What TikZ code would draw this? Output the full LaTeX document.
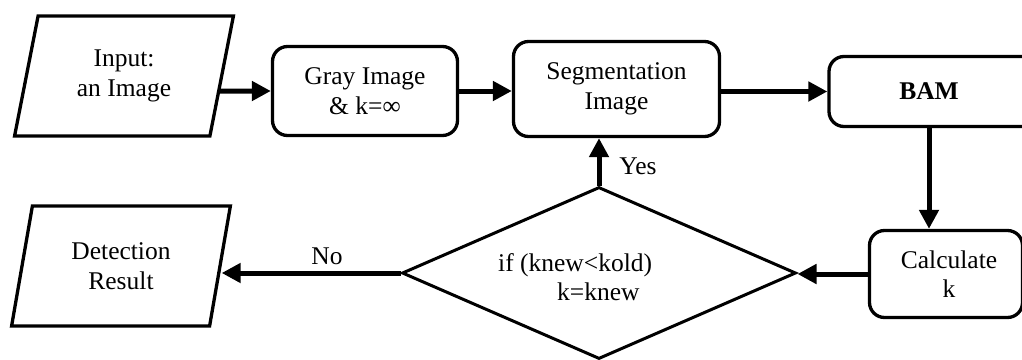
\documentclass[tikz,border=0pt]{standalone}
\usepackage{fontspec}
\setmainfont{Liberation Serif}
\usetikzlibrary{shapes.geometric,arrows.meta,calc}
\begin{document}
\begin{tikzpicture}[x=1pt,y=-1pt,
  every node/.style={font=\fontsize{25.5}{29.5}\selectfont, align=center},
  box/.style={draw, line width=3.3pt, rounded corners=15pt, inner sep=0pt},
  io/.style={draw, line width=3.3pt, trapezium, trapezium left angle=76,
    trapezium right angle=104, trapezium stretches=true,
    minimum width=219pt, minimum height=120pt, inner sep=0pt},
  arr/.style={line width=5pt, -{Triangle[length=19pt,width=19pt]}},
  lbl/.style={inner sep=0pt}
]
\useasboundingbox (0,0) rectangle (1022,359);

\node[io] (in) at (124,76) {Input:\\an Image};
\node[box, minimum width=185pt, minimum height=89pt] (gray) at (365,91) {Gray Image\\\& k=∞};
\node[box, minimum width=206pt, minimum height=95pt] (seg) at (616.5,89) {Segmentation\\Image};
\node[box, minimum width=208pt, minimum height=70pt] (bam) at (933,91.5) {\hspace*{-8pt}\textbf{BAM}};
\node[box, minimum width=153pt, minimum height=87pt] (calc) at (946,274) {\hspace*{6pt}Calculate\\\hspace*{6pt}k};
\node[draw, diamond, line width=3pt, minimum width=394pt, minimum height=172pt, inner sep=0pt] (dia) at (599,273) {};
\node[lbl, anchor=west, align=left] (dtext) at (498,277) {if (knew<kold)\\\hspace*{59pt}k=knew};
\node[io] (det) at (121,266) {Detection\\Result};

\draw[arr] ($(in.east)+(-3.9,15)$) -- (gray.west);
\draw[arr] (gray.east) -- (gray.east -| seg.west);
\draw[arr] (seg.east |- bam.west) -- (bam.west);
\draw[arr] ($(bam.south)+(-4,0)$) -- ($(bam.south |- calc.north)+(-4,0)$);
\draw[arr] (calc.west) -- (calc.west -| dia.east);
\draw[arr] (dia.north) -- (dia.north |- seg.south);
\draw[arr] (dia.west) -- (dia.west -| det.east);

\node[lbl] (yes) at (638,166) {Yes};
\node[lbl] (no) at (327,256) {No};
\end{tikzpicture}
\end{document}
